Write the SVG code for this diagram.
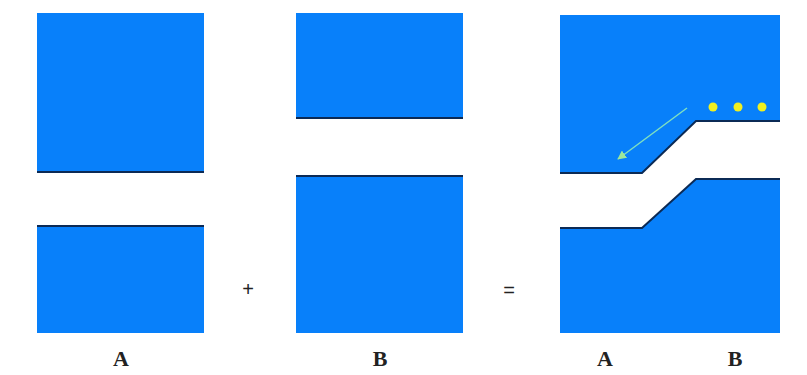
<svg xmlns="http://www.w3.org/2000/svg" width="807" height="375" viewBox="0 0 807 375">
<style>
.blk{fill:#0880fa}
.edge{fill:none;stroke:#0b2a55;stroke-width:2}
.lbl{font-family:"Liberation Serif",serif;font-size:22px;font-weight:bold;fill:#222;text-anchor:middle}
.op{font-family:"Liberation Sans",sans-serif;font-size:20px;fill:#222;text-anchor:middle}
.dot{fill:#f0f020}
</style>
<defs>
<marker id="ah" viewBox="0 0 10 10" refX="9" refY="5" markerWidth="6" markerHeight="6" orient="auto-start-reverse">
<path d="M0,0 L10,5 L0,10 Z" fill="#9ee89a"/>
</marker>
</defs>
<rect width="807" height="375" fill="#fff"/>
<g id="A">
<rect class="blk" x="37" y="13" width="167" height="159"/>
<line class="edge" x1="37" y1="172" x2="204" y2="172"/>
<rect class="blk" x="37" y="226" width="167" height="107"/>
<line class="edge" x1="37" y1="226" x2="204" y2="226"/>
<text class="lbl" x="121" y="366">A</text>
</g>
<g id="B">
<rect class="blk" x="296" y="13" width="167" height="105"/>
<line class="edge" x1="296" y1="118" x2="463" y2="118"/>
<rect class="blk" x="296" y="176" width="167" height="157"/>
<line class="edge" x1="296" y1="176" x2="463" y2="176"/>
<text class="lbl" x="380" y="366">B</text>
</g>
<g id="ops">
<text class="op" x="248" y="296">+</text>
<text class="op" x="509" y="297">=</text>
</g>
<g id="AB">
<path class="blk" d="M560,15 H780 V121 H696 L642,173 H560 Z"/>
<path class="edge" d="M780,121 H696 L642,173 H560"/>
<path class="blk" d="M560,228 H642 L696,179 H780 V333 H560 Z"/>
<path class="edge" d="M560,228 H642 L696,179 H780"/>
<circle class="dot" cx="713" cy="107" r="4.5"/>
<circle class="dot" cx="738" cy="107" r="4.5"/>
<circle class="dot" cx="762" cy="107" r="4.5"/>
<text class="lbl" x="605" y="366">A</text>
<text class="lbl" x="735" y="366">B</text>
</g>
<g id="connectors">
<line x1="687" y1="108" x2="618" y2="159" stroke="#7fe0c0" stroke-width="1.5" marker-end="url(#ah)"/>
</g>
</svg>
